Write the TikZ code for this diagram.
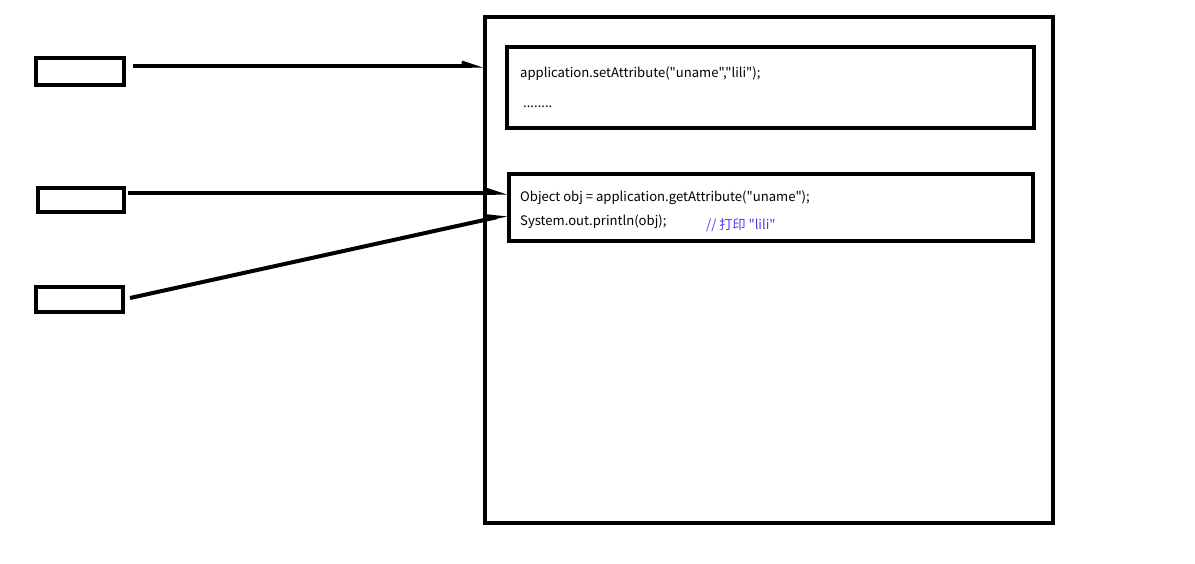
\documentclass[tikz,border=0pt]{standalone}
\usepackage{fontspec}
\setmainfont{Noto Sans CJK SC}[Ligatures=TeXOff]
\usetikzlibrary{arrows.meta}
\definecolor{cmt}{RGB}{70,60,230}
\begin{document}
\begin{tikzpicture}[x=1pt,y=-1pt,
  box/.style={draw=black,line width=4pt,inner sep=0pt,outer sep=0pt,anchor=north west},
  code/.style={anchor=base west,inner sep=0pt,font=\fontsize{13.1}{15}\selectfont},
  conn/.style={line width=4pt,-{Straight Barb[left,length=12pt,width=8pt,line width=3pt]}}]
\useasboundingbox[fill=white] (0,0) rectangle (1195,563);
% small boxes
\node[box,minimum width=88pt,minimum height=27pt] (s1) at (36,58) {};
\node[box,minimum width=86pt,minimum height=24pt] (s2) at (38,188) {};
\node[box,minimum width=87pt,minimum height=25pt] (s3) at (36,287) {};
% big box
\node[box,minimum width=568pt,minimum height=506pt] (big) at (485,17) {};
% inner boxes
\node[box,minimum width=527pt,minimum height=81pt] (in1) at (507,47) {};
\node[box,minimum width=524pt,minimum height=67pt] (in2) at (509,174) {};
% texts
\node[code] (t1) at (520,77) {application.setAttribute("uname","lili");};
\node[code] (t2) at (523,107) {........};
\node[code] (t3) at (520,201) {Object obj = application.getAttribute("uname");};
\node[code] (t4) at (520,225) {System.out.println(obj);};
\node[code,text=cmt] (t5) at (706,229) {// 打印 "lili"};
% connector ends
\coordinate (a1s) at (133,66);
\coordinate (a1e) at (483,66);
\coordinate (a2s) at (128,193);
\coordinate (a2e) at (507,193);
\coordinate (a3s) at (130,298);
\coordinate (a3e) at (507,215);
\draw[conn] (a1s) -- (a1e);
\draw[conn] (a2s) -- (a2e);
\draw[conn] (a3s) -- (a3e);
\end{tikzpicture}
\end{document}
